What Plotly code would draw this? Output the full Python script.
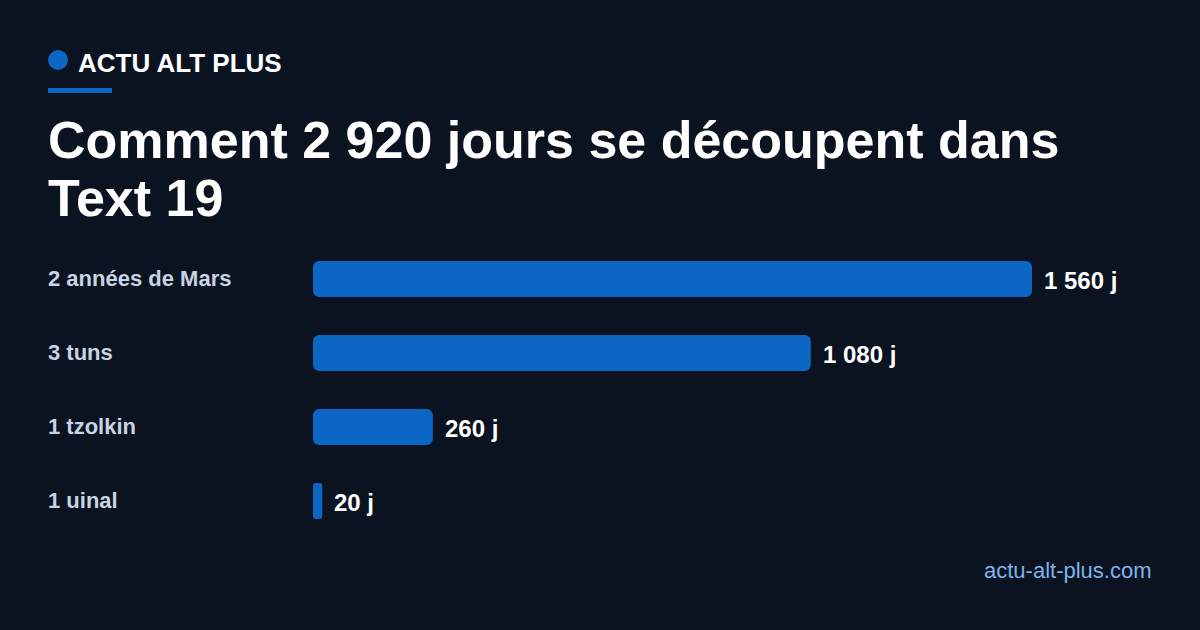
import plotly.graph_objects as go

categories = ["2 années de Mars", "3 tuns", "1 tzolkin", "1 uinal"]
values = [1560, 1080, 260, 20]
value_labels = ["1 560 j", "1 080 j", "260 j", "20 j"]

brand = "ACTU ALT PLUS"
title_lines = ["Comment 2 920 jours se découpent dans", "Text 19"]
footer = "actu-alt-plus.com"

W, H = 1200, 630
L, R, T, B = 313, 48, 242, 92
PW, PH = W - L - R, H - T - B
BG = "#0b1320"
BLUE = "#0c66c4"
FONT = "Liberation Sans, Arial, sans-serif"


def px(x):
    return (x - L) / PW


def py(y):
    return (H - B - y) / PH


ypos = list(range(len(categories)))

# each bar drawn as two overlapping pieces: one rounded at the tip, one rounded at the base
tip_base = [v * 0.3 for v in values]
tip_len = [v - b for v, b in zip(values, tip_base)]
root_base = [v * 0.7 for v in values]

fig = go.Figure()
fig.add_trace(go.Bar(
    x=tip_len, base=tip_base, y=ypos, orientation="h",
    marker=dict(color=BLUE, line=dict(width=0)),
    width=0.486, hoverinfo="skip",
))
fig.add_trace(go.Bar(
    x=[-b for b in root_base], base=root_base, y=ypos, orientation="h",
    marker=dict(color=BLUE, line=dict(width=0)),
    width=0.486, hoverinfo="skip",
))

ann = []
for yi, cat, v, lab in zip(ypos, categories, values, value_labels):
    ann.append(dict(x=px(46), xref="paper", y=yi, yref="y", text=cat,
                    xanchor="left", yanchor="middle", yshift=1, showarrow=False,
                    font=dict(family=FONT, size=22, color="#c9d4e2", weight="bold")))
    ann.append(dict(x=v, xref="x", y=yi, yref="y", text=lab,
                    xanchor="left", yanchor="middle", xshift=10, yshift=-1, showarrow=False,
                    font=dict(family=FONT, size=24, color="#ffffff", weight="bold")))

ann.append(dict(x=px(76), xref="paper", y=py(63), yref="paper", text=brand,
                xanchor="left", yanchor="middle", showarrow=False,
                font=dict(family=FONT, size=26, color="#ffffff", weight="bold")))
for i, line in enumerate(title_lines):
    ann.append(dict(x=px(46), xref="paper", y=py(140 + 58 * i), yref="paper", text=line,
                    xanchor="left", yanchor="middle", showarrow=False,
                    font=dict(family=FONT, size=52, color="#ffffff", weight="bold")))
ann.append(dict(x=px(1154), xref="paper", y=py(570), yref="paper", text=footer,
                xanchor="right", yanchor="middle", showarrow=False,
                font=dict(family=FONT, size=22, color="#7fb3ea")))

shapes = [
    dict(type="circle", xref="paper", yref="paper", x0=px(48), x1=px(68), y0=py(50), y1=py(70),
         fillcolor=BLUE, line=dict(width=0)),
    dict(type="rect", xref="paper", yref="paper", x0=px(48), x1=px(112), y0=py(88), y1=py(93),
         fillcolor=BLUE, line=dict(width=0)),
]

fig.update_layout(
    width=W, height=H,
    margin=dict(l=L, r=R, t=T, b=B, pad=0),
    paper_bgcolor=BG, plot_bgcolor=BG,
    barmode="overlay",
    barcornerradius=6,
    showlegend=False,
    xaxis=dict(range=[0, 1560 * PW / 719], visible=False, fixedrange=True),
    yaxis=dict(range=[len(categories) - 0.5, -0.5], visible=False, fixedrange=True),
    annotations=ann, shapes=shapes,
)

fig.write_html("out.html", config={"displayModeBar": False},
               post_script="document.body.style.margin='0';document.body.style.background='%s';" % BG)
